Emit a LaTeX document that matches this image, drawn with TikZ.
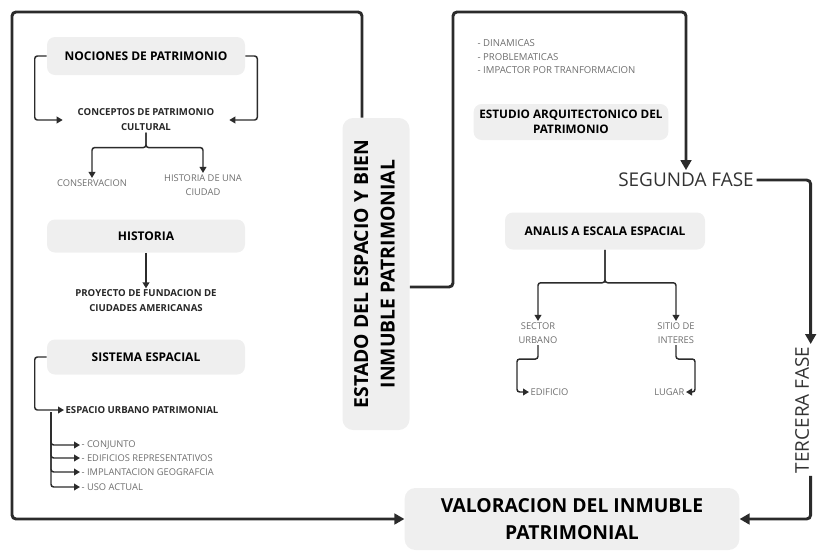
\documentclass[tikz,border=0pt]{standalone}
\usepackage{fontspec}
\setmainfont{Open Sans}
\usetikzlibrary{arrows.meta}
\usetikzlibrary{positioning}

\definecolor{boxgray}{HTML}{EFEFEF}
\definecolor{linegray}{HTML}{2B2B2B}
\definecolor{textgray}{HTML}{6E6E6E}

\tikzset{
  graybox/.style={fill=boxgray, rounded corners=6pt, align=center, inner sep=1pt,
    font=\bfseries\fontsize{9}{11}\selectfont},
  subtitle/.style={align=center, inner sep=1pt, text=black!85,
    font=\bfseries\fontsize{7.2}{11.2}\selectfont},
  leaf/.style={align=center, inner sep=1pt, text=textgray,
    font=\fontsize{7}{10.5}\selectfont},
  phase/.style={inner sep=2pt, text=black!80, font=\fontsize{14.2}{16}\selectfont},
  link/.style={draw=linegray, line width=1.1pt, rounded corners=2pt,
    -{Triangle[length=4.5pt,width=5pt]}},
  bigline/.style={draw=linegray, line width=2.2pt, rounded corners=3pt,
    -{Triangle[length=7.5pt,width=8pt]}}
}

\begin{document}
\begin{tikzpicture}[x=0.75pt, y=-0.75pt]
  \useasboundingbox (0,0) rectangle (819,554);

  % Left column
  \node[graybox, minimum width=148.5pt, minimum height=28.5pt] (nociones) at (146,56) {NOCIONES DE PATRIMONIO};
  \node[subtitle, minimum width=124.5pt] (conceptos) at (146,120) {CONCEPTOS DE PATRIMONIO\\CULTURAL};
  \node[leaf] (conserv) at (92,183) {CONSERVACION};
  \node[leaf] (ciudad) at (203,185) {HISTORIA DE UNA\\CIUDAD};

  \node[graybox, minimum width=148.5pt, minimum height=24.75pt] (historia) at (146,236) {HISTORIA};
  \node[subtitle] (proyecto) at (146,301) {PROYECTO DE FUNDACION DE\\CIUDADES AMERICANAS};

  \node[graybox, minimum width=148.5pt, minimum height=26.25pt] (sistema) at (146,357) {SISTEMA ESPACIAL};
  \node[subtitle, anchor=west] (espacio) at (64,410) {ESPACIO URBANO PATRIMONIAL};
  \node[leaf, anchor=west] (conjunto) at (80,445) {- CONJUNTO};
  \node[leaf, anchor=west] (edificios) at (80,458) {- EDIFICIOS REPRESENTATIVOS};
  \node[leaf, anchor=west] (implanta) at (80,472) {- IMPLANTACION GEOGRAFCIA};
  \node[leaf, anchor=west] (uso) at (80,487) {- USO ACTUAL};
  \coordinate (trunk) at (51,412);

  % Centre
  \node[graybox, minimum width=50.25pt, minimum height=234pt, rounded corners=8pt] (estado) at (376,274)
    {\rotatebox{90}{\fontsize{14.5}{20}\selectfont\begin{tabular}{@{}c@{}}ESTADO DEL ESPACIO Y BIEN\\INMUBLE PATRIMONIAL\end{tabular}}};
  \node[graybox, minimum width=251pt, minimum height=46.5pt, rounded corners=8pt,
    font=\bfseries\fontsize{14.5}{20}\selectfont] (valor) at (572,519) {VALORACION DEL INMUBLE\\PATRIMONIAL};

  % Right column
  \node[leaf, anchor=north west, align=left, font=\fontsize{7.2}{10.2}\selectfont] (dinamicas) at (476,38)
    {- DINAMICAS\\- PROBLEMATICAS\\- IMPACTOR POR TRANFORMACION};
  \node[graybox, minimum width=146pt, minimum height=27pt, inner xsep=0pt,
    font=\bfseries\fontsize{8.8}{11}\selectfont] (estudio) at (571,122) {ESTUDIO ARQUITECTONICO DEL\\PATRIMONIO};
  \node[phase] (segunda) at (686,180) {SEGUNDA FASE};
  \node[phase, inner xsep=0pt] (tercera) at (802,410) {\rotatebox{90}{TERCERA FASE}};

  \node[graybox, minimum width=150pt, minimum height=27.75pt] (analis) at (605,231) {ANALIS A ESCALA ESPACIAL};
  \node[leaf] (sector) at (538,333) {SECTOR\\URBANO};
  \node[leaf] (sitio) at (676,333) {SITIO DE\\INTERES};
  \node[leaf, anchor=west] (edificio) at (529,392) {EDIFICIO};
  \node[leaf, anchor=east] (lugar) at (686,392) {LUGAR};

  \coordinate (nw) at (12,12);
  \coordinate (ne) at (453,12);

  % Main loops
  \draw[bigline] ([xshift=-10.5pt]estado.north) |- (nw) |- (valor.west);
  \draw[bigline] ([yshift=-9.75pt]estado.east) -| (ne) -| (segunda.north);
  \draw[bigline] (segunda.east) -| ([xshift=6.5pt]tercera.north);
  \draw[bigline] ([xshift=6.5pt]tercera.south) |- (valor.east);

  % Left connectors
  \draw[link] (nociones.west) -- ++(-12,0) |- (conceptos.west);
  \draw[link] (nociones.east) -- ++(12,0) |- (conceptos.east);
  \draw[link] (conceptos.south) -- ++(0,15) -| (conserv.north);
  \draw[link] (conceptos.south) -- ++(0,15) -| (ciudad.north);
  \draw[link] (historia.south) -- (proyecto.north);
  \draw[link] (sistema.west) -- ++(-12,0) |- (espacio.west);
  \draw[link] (trunk) |- (conjunto.west);
  \draw[link] (trunk) |- (edificios.west);
  \draw[link] (trunk) |- (implanta.west);
  \draw[link] (trunk) |- (uso.west);

  % Right connectors
  \draw[link] (analis.south) -- ++(0,33) -| (sector.north);
  \draw[link] (analis.south) -- ++(0,33) -| (sitio.north);
  \draw[link] (sector.south) -- ++(0,14) -- ++(-21,0) |- (edificio.west);
  \draw[link] (sitio.south) -- ++(0,14) -- ++(19,0) |- (lugar.east);
\end{tikzpicture}
\end{document}
